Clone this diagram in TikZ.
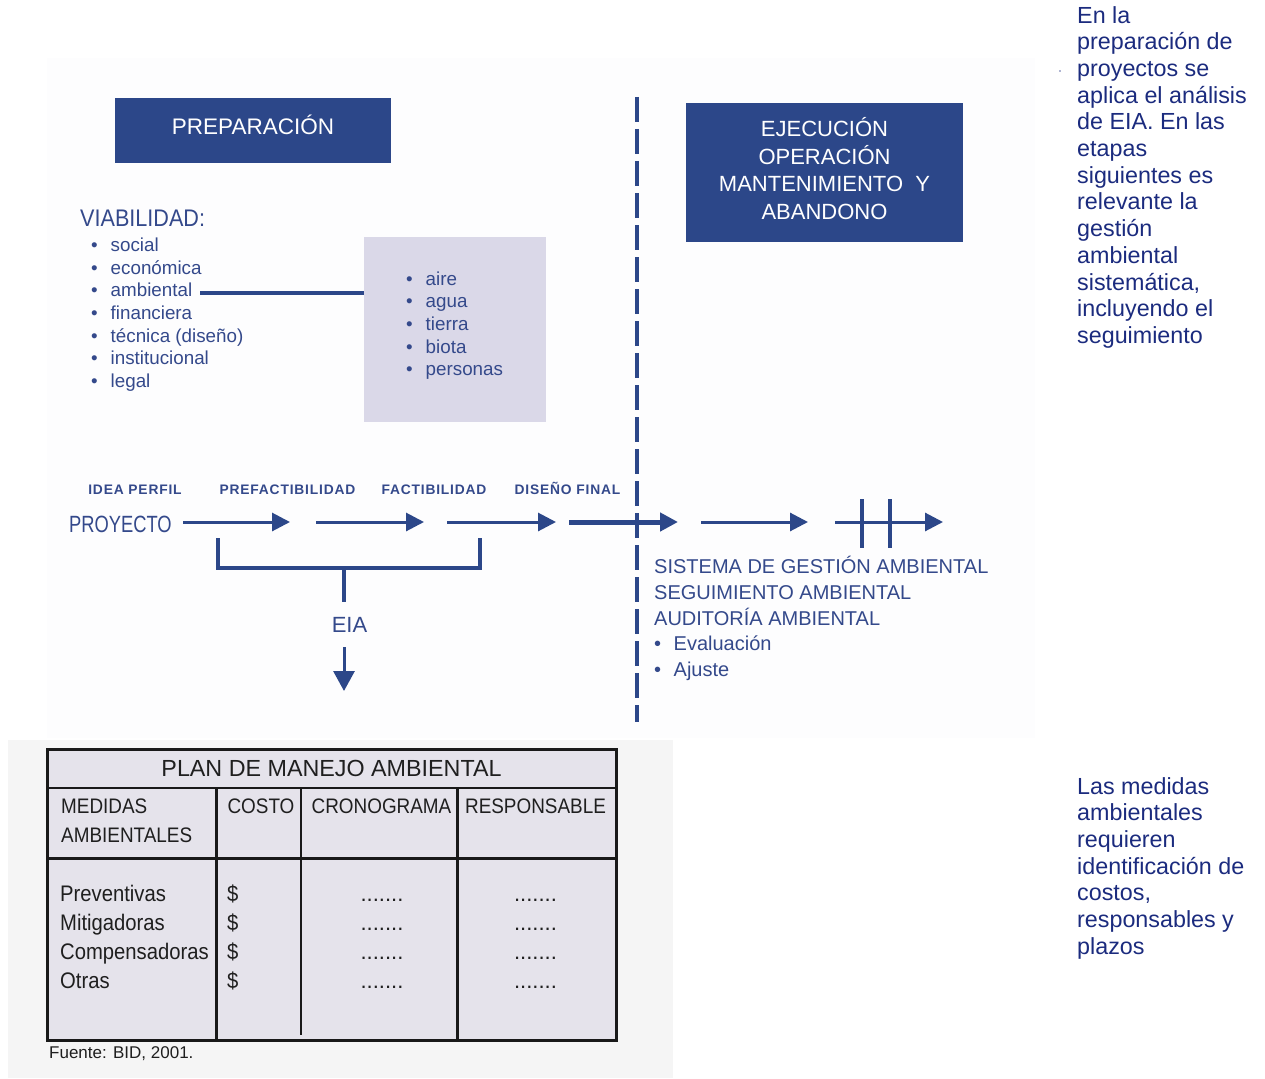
\documentclass[tikz,border=0pt]{standalone}
\usepackage{fontspec}
\setmainfont{Liberation Sans}
\newfontfamily\narrowfont[FakeStretch=0.9]{Liberation Sans}
\newfontfamily\condfont[FakeStretch=0.78]{Liberation Sans}
\newfontfamily\stagefont[LetterSpace=6]{Liberation Sans}
\usetikzlibrary{arrows.meta,positioning}

\definecolor{boxblue}{HTML}{2C4789}
\definecolor{txtblue}{HTML}{34498B}
\definecolor{navy}{HTML}{1B2B7E}
\definecolor{lavbox}{HTML}{DAD8E8}
\definecolor{tablefill}{HTML}{E5E3EB}
\definecolor{panelgray}{HTML}{F5F5F5}
\definecolor{panelwhite}{HTML}{FDFDFE}

\newcommand{\bul}{\makebox[19.5pt][l]{•}}
\newcommand{\fsz}[2]{\fontsize{#1}{#2}\selectfont}

\tikzset{
  phasebox/.style={fill=boxblue, text=white, align=center, inner sep=0pt},
  listitem/.style={anchor=base west, inner sep=0pt, text=txtblue, font=\fsz{18.8}{22.6}},
  stage/.style={anchor=base, inner sep=0pt, text=txtblue, font=\stagefont\bfseries\fsz{13.8}{16}},
  flowarrow/.style={draw=boxblue, line width=3pt, -{Triangle[length=18pt,width=18pt]}},
  bracketline/.style={draw=boxblue, line width=3.5pt},
  divider/.style={draw=boxblue, line width=4pt, dash pattern=on 25pt off 7pt},
  sidenote/.style={anchor=north west, inner sep=0pt, align=left, text=navy, font=\fsz{23.3}{26.7}},
  cell/.style={anchor=base west, inner sep=0pt, text=black!88, font=\narrowfont\fsz{22.5}{29}},
  tabline/.style={draw=black!90},
}

\begin{document}
\begin{tikzpicture}[x=1pt,y=-1pt]
  \useasboundingbox (0,0) rectangle (1265,1078);
  % background panels
  \fill[panelwhite] (47,58) rectangle (1035,738);
  \fill[panelgray] (8,740) rectangle (673,1078);

  % phase boxes
  \node[phasebox, minimum width=276, minimum height=65, text height=16pt, text depth=7pt, font=\fsz{22.5}{27}] (prep) at (253,130.5) {PREPARACIÓN};
  \node[phasebox, minimum width=277, minimum height=139, font=\fsz{22}{27.8}] (ejec) at (824.5,172.5) {EJECUCIÓN\\OPERACIÓN\\MANTENIMIENTO\ \ Y\\ABANDONO\rule[-8pt]{0pt}{8pt}};

  % viabilidad
  \node[listitem, font=\narrowfont\fsz{24}{26}] (viab) at (80,226) {VIABILIDAD:};
  \foreach \txt [count=\i] in {social,económica,ambiental,financiera,técnica (diseño),institucional,legal}
    \node[listitem] (via\i) at (91,229.1+22.6*\i) {\bul\txt};

  \node[fill=lavbox, minimum width=182, minimum height=185, inner sep=0pt] (medio) at (455,329.5) {};
  \foreach \txt [count=\i] in {aire,agua,tierra,biota,personas}
    \node[listitem] (med\i) at (406,262.3+22.7*\i) {\bul\txt};
  \draw[bracketline, line width=4pt] ([xshift=8pt,yshift=3.5pt]via3.base east) coordinate (amb) -- (amb -| medio.west);

  % divider
  \coordinate (dtop) at (637,97);
  \coordinate (dbot) at (637,722);
  \draw[divider] (dtop) -- (dbot);

  % stages
  \node[stage] (idea) at (135,494) {IDEA\ PERFIL};
  \node[stage] (prefac) at (287.5,494) {PREFACTIBILIDAD};
  \node[stage] (fac) at (434,494) {FACTIBILIDAD};
  \node[stage] (diseno) at (567.5,494) {DISEÑO\ FINAL};
  \node[listitem, font=\condfont\fsz{23.5}{26}] (proy) at (69,532) {PROYECTO};

  % flow
  \foreach \a/\b [count=\i] in {183/290,316/424,447/556,701/808,835/943} {
    \coordinate (s\i) at (\a,522);
    \coordinate (e\i) at (\b,522);
    \draw[flowarrow] (s\i) -- (e\i);
  }
  \coordinate (sx) at (569,522);
  \coordinate (ex) at (678,522);
  \draw[flowarrow, line width=5pt] (sx) -- (ex);
  \foreach \x in {862,890} \draw[bracketline] (\x,499) -- (\x,548);

  % EIA
  \coordinate (bl) at (218,538);
  \coordinate (br) at (480,538);
  \coordinate (bm) at (344,568);
  \draw[bracketline] (bl) |- (bm) -| (br);
  \node[anchor=base, inner xsep=0pt, inner ysep=15pt, text=txtblue, font=\fsz{22}{26}] (eia) at (349.5,632) {EIA};
  \draw[bracketline] (bm) -- (bm |- eia.north);
  \coordinate (eiaout) at (344,691);
  \draw[flowarrow, -{Triangle[length=20pt,width=21pt]}] (bm |- eia.south) -- (eiaout);

  % gestion
  \foreach \txt [count=\i] in {SISTEMA DE GESTIÓN AMBIENTAL,SEGUIMIENTO AMBIENTAL,AUDITORÍA AMBIENTAL,\bul Evaluación,\bul Ajuste}
    \node[listitem, font=\fsz{20}{26}] (sga\i) at (654,547.7+25.8*\i) {\txt};

  % side notes
  \node[sidenote] (nota1) at (1077,6) {En la\\preparación de\\proyectos se\\aplica el análisis\\de EIA. En las\\etapas\\siguientes es\\relevante la\\gestión\\ambiental\\sistemática,\\incluyendo el\\seguimiento};
  \fill[navy!70] (1060,71) circle (0.8);
  \node[sidenote] (nota2) at (1077,777) {Las medidas\\ambientales\\requieren\\identificación de\\costos,\\responsables y\\plazos};

  % table
  \fill[tablefill] (47,749) rectangle (616,1040);
  \draw[tabline, line width=2pt] (47,788) -- (616,788);
  \draw[tabline, line width=3pt] (47,858) -- (616,858);
  \draw[tabline, line width=3pt] (216,788) -- (216,1040);
  \draw[tabline, line width=1.5pt] (301,788) -- (301,1035);
  \draw[tabline, line width=3pt] (457,788) -- (457,1040);
  \draw[tabline, line width=3pt] (47,749) rectangle (616,1040);

  \node[cell, anchor=base, font=\fsz{23.3}{28}] (plan) at (331.5,776.7) {PLAN DE MANEJO AMBIENTAL};
  \node[cell, font=\narrowfont\fsz{21}{29}] (medidas) at (61,813.3) {MEDIDAS};
  \node[cell, font=\narrowfont\fsz{21}{29}] (ambientales) at (61,842.3) {AMBIENTALES};
  \node[cell, anchor=base, font=\narrowfont\fsz{21}{29}] (costo) at (261,813.3) {COSTO};
  \node[cell, anchor=base, font=\narrowfont\fsz{21}{29}] (crono) at (381.5,813.3) {CRONOGRAMA};
  \node[cell, anchor=base, font=\narrowfont\fsz{21}{29}] (resp) at (535.5,813.3) {RESPONSABLE};
  \foreach \txt [count=\i] in {Preventivas,Mitigadoras,Compensadoras,Otras} {
    \node[cell] (medida\i) at (60,871.7+29.3*\i) {\txt};
    \node[cell] (costo\i) at (227,871.7+29.3*\i) {\$};
    \node[cell, anchor=base, font=\fsz{22}{29}] (crono\i) at (382,871.7+29.3*\i) {.......};
    \node[cell, anchor=base, font=\fsz{22}{29}] (resp\i) at (535.5,871.7+29.3*\i) {.......};
  }
  \node[cell, font=\fsz{17}{20}] (fuente) at (49,1058) {Fuente: BID, 2001.};
\end{tikzpicture}
\end{document}
